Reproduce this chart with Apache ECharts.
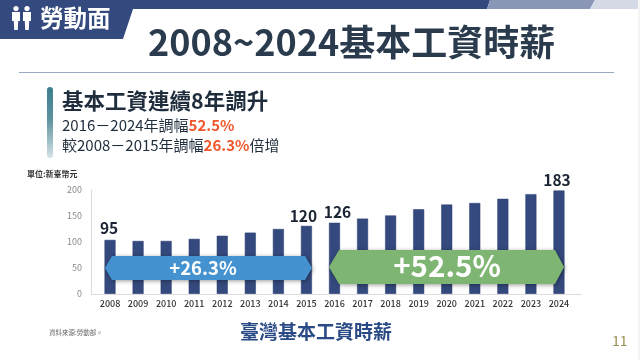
<!DOCTYPE html>
<html><head><meta charset="utf-8">
<style>html,body{margin:0;padding:0;background:#fff}#c{width:640px;height:360px}</style>
<script src="https://cdn.jsdelivr.net/npm/echarts@6/dist/echarts.min.js"></script>
</head><body><div id="c"></div>
<script>
const years = ['2008','2009','2010','2011','2012','2013','2014','2015','2016','2017','2018','2019','2020','2021','2022','2023','2024'];
const barHeights = [104,102,102,106,112,118,125,131,137,145,151,163,172,175,183,192,199];
const barLabels = ['95','','','','','','','120','126','','','','','','','','183'];
const yTicks = [0,50,100,150,200];
const FONT = '"Noto Sans CJK TC","Noto Sans",sans-serif';
const labelNudge = {0:[-1,-1],7:[-3,1],8:[3,0],16:[-2,0]};
const chart = echarts.init(document.getElementById('c'), null, {renderer:'canvas'});
function txt(x,y,text,size,color,weight,extra){
  return {type:'text',z:20,x:x,y:y,style:Object.assign({text:text,fontSize:size,fill:color,fontWeight:weight||'normal',fontFamily:FONT,textVerticalAlign:'middle',verticalAlign:'middle'},extra||{})};
}
function poly(points,fill,extra){
  return {type:'polygon',z:extra&&extra.z||5,shape:{points:points},style:Object.assign({fill:fill},extra&&extra.style||{})};
}
function person(cx){
  return [
    {type:'circle',z:20,shape:{cx:cx,cy:8.5,r:2.6},style:{fill:'#fff'}},
    {type:'polygon',z:20,shape:{points:[[cx-4,12],[cx+4,12],[cx+4,21],[cx+2.2,21],[cx+1.8,30],[cx-1.8,30],[cx-2.2,21],[cx-4,21]]},style:{fill:'#fff'}}
  ];
}
const arrowShadow = {shadowBlur:4,shadowColor:'rgba(0,0,0,0.4)',shadowOffsetX:1,shadowOffsetY:1};
const rich = {a:{fontSize:15,fill:'#1f2d3d',color:'#1f2d3d',fontFamily:FONT},b:{fontSize:15,fontWeight:'bold',fill:'#f0562a',color:'#f0562a',fontFamily:FONT}};
chart.setOption({
  animation:false,
  backgroundColor:'#ffffff',
  grid:{left:96,right:67,top:190,bottom:66,containLabel:false},
  xAxis:{type:'category',data:years,boundaryGap:true,
    axisLine:{show:false},axisTick:{show:false},
    axisLabel:{interval:0,fontSize:9,fontWeight:500,color:'#333',margin:5,fontFamily:FONT}},
  yAxis:{type:'value',min:0,max:200,interval:50,offset:5,
    axisLine:{show:true,lineStyle:{color:'#dcdcdc',width:1}},axisTick:{show:false},splitLine:{show:false},
    axisLabel:{fontSize:9,color:'#8a8a8a',margin:9,fontFamily:FONT,
      formatter:function(v){return yTicks.indexOf(v)>=0?String(v):'';}}},
  series:[{type:'bar',data:barHeights,barWidth:11,
    itemStyle:{color:'#34497d',borderColor:'#2a3c72',borderWidth:0.5},
    label:{show:true,position:'top',distance:3,fontSize:15.5,fontWeight:'bold',color:'#1a2433',fontFamily:FONT,
      formatter:function(p){return barLabels[p.dataIndex];}},
    labelLayout:function(p){const n=labelNudge[p.dataIndex];return n?{dx:n[0],dy:n[1]}:{};}}],
  graphic:[
    poly([[0,0],[490,0],[487,9],[133,9],[123,39],[0,39]],'#34497d'),
    poly([[490,0],[595,0],[590,9],[487,9]],'#8a96b5'),
    poly([[595,0],[638,0],[638,9],[590,9]],'#d5d9e5'),
    {type:'rect',z:4,shape:{x:638,y:0,width:2,height:360},style:{fill:'#f4f4f4'}},
    ...person(16),...person(27),
    txt(40,18,'勞動面',23.5,'#ffffff','bold'),
    txt(148,42,'2008~2024基本工資時薪',36,'#2b3b4e','bold'),
    {type:'rect',z:5,shape:{x:19,y:72,width:595,height:1},style:{fill:'#9aa9c2'}},
    {type:'rect',z:5,shape:{x:47,y:87,width:6,height:71,r:3},style:{fill:new echarts.graphic.LinearGradient(0,0,0,1,[{offset:0,color:'#3d7f8e'},{offset:0.45,color:'#5c929f'},{offset:1,color:'#d5e2e6'}])}},
    txt(62,101,'基本工資連續8年調升',21.5,'#1f2d3d','bold'),
    {type:'text',z:20,x:62,y:125,style:{text:'{a|2016－2024年調幅}{b|52.5%}',verticalAlign:'middle',rich:rich}},
    {type:'text',z:20,x:62,y:145,style:{text:'{a|較2008－2015年調幅}{b|26.3%}{a|倍增}',verticalAlign:'middle',rich:rich}},
    txt(27,174,'單位:新臺幣元',8,'#333','bold'),
    {type:'rect',z:3,shape:{x:91,y:294,width:491,height:1},style:{fill:'#dcdcdc'}},
    poly([[105,268],[112,256],[305,256],[312,268],[305,280],[112,280]],'#4492cf',{z:10,style:arrowShadow}),
    txt(203,268,'+26.3%',18.5,'#ffffff','bold',{textAlign:'center',align:'center'}),
    poly([[329,267],[339,250],[555,250],[564,267],[555,284],[339,284]],'#7fb573',{z:10,style:arrowShadow}),
    txt(447,266,'+52.5%',29.5,'#ffffff','bold',{textAlign:'center',align:'center'}),
    txt(49,333,'資料來源:勞動部。',6.5,'#666'),
    txt(240,332,'臺灣基本工資時薪',19,'#2a4a85','bold'),
    txt(612,341,'11',14,'#9a8f50')
  ]
});
</script></body></html>
